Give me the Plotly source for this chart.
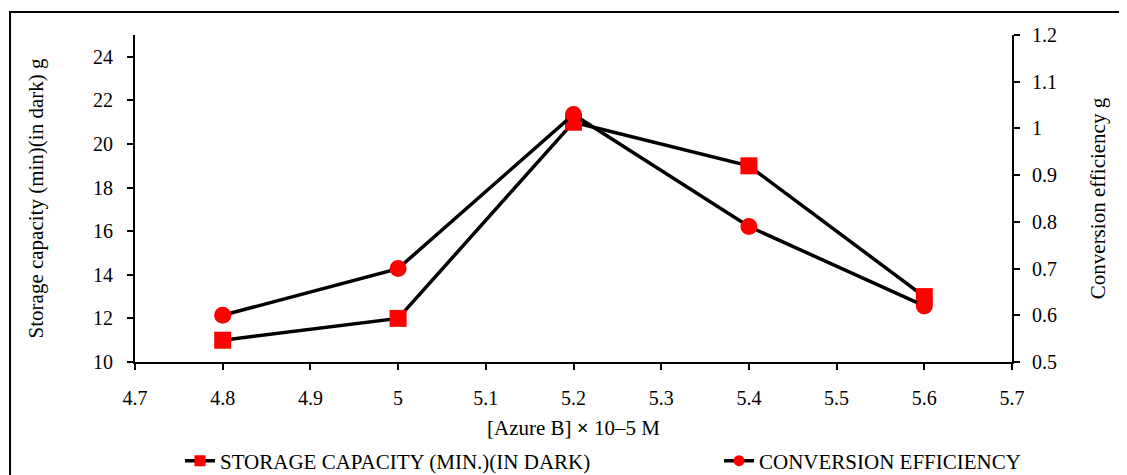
import plotly.graph_objects as go

x_vals = [4.8, 5.0, 5.2, 5.4, 5.6]
storage_capacity = [11, 12, 21, 19, 13]
conversion_eff = [0.60, 0.70, 1.03, 0.79, 0.62]

left_ticks = [10, 12, 14, 16, 18, 20, 22, 24]
right_ticks = [0.5, 0.6, 0.7, 0.8, 0.9, 1.0, 1.1, 1.2]
right_labels = ["0.5", "0.6", "0.7", "0.8", "0.9", "1", "1.1", "1.2"]
x_ticks = [4.7, 4.8, 4.9, 5.0, 5.1, 5.2, 5.3, 5.4, 5.5, 5.6, 5.7]
x_labels = ["4.7", "4.8", "4.9", "5", "5.1", "5.2", "5.3", "5.4", "5.5", "5.6", "5.7"]

name_storage = "STORAGE CAPACITY (MIN.)(IN DARK)"
name_conv = "CONVERSION EFFICIENCY"

FONT = "Liberation Serif"
TICK_SIZE = 20
TITLE_SIZE = 21

fig = go.Figure()
fig.add_trace(go.Scatter(
    x=x_vals, y=storage_capacity, name=name_storage,
    mode="lines+markers",
    line=dict(color="black", width=3.5),
    marker=dict(symbol="square", size=17, color="red"),
    yaxis="y", showlegend=False,
))
fig.add_trace(go.Scatter(
    x=x_vals, y=conversion_eff, name=name_conv,
    mode="lines+markers",
    line=dict(color="black", width=3.5),
    marker=dict(symbol="circle", size=17, color="red"),
    yaxis="y2", showlegend=False,
))
# legend entries (smaller legend symbols as in the reference)
fig.add_trace(go.Scatter(
    x=[None], y=[None], name=name_storage, mode="lines+markers",
    line=dict(color="black", width=3.5),
    marker=dict(symbol="square", size=11, color="red"),
    legend="legend", hoverinfo="skip",
))
fig.add_trace(go.Scatter(
    x=[None], y=[None], name=name_conv, mode="lines+markers",
    line=dict(color="black", width=3.5),
    marker=dict(symbol="circle", size=11, color="red"),
    legend="legend2", hoverinfo="skip", yaxis="y2",
))

axis_common = dict(
    showgrid=False, zeroline=False, showline=True, linecolor="black", linewidth=2,
    ticks="outside", ticklen=6, tickwidth=2, tickcolor="black", automargin=False,
    tickfont=dict(family=FONT, size=TICK_SIZE, color="black"),
)

legend_common = dict(
    orientation="h", xref="container", yref="container",
    xanchor="left", yanchor="middle", y=0.030,
    font=dict(family=FONT, size=TITLE_SIZE, color="black"),
    bgcolor="rgba(0,0,0,0)",
)

fig.update_layout(
    width=1119, height=467,
    margin=dict(l=127, r=115, t=27, b=113),
    paper_bgcolor="white", plot_bgcolor="white",
    font=dict(family=FONT, size=TICK_SIZE, color="black"),
    xaxis=dict(
        range=[4.7, 5.7], tickvals=x_ticks, ticktext=x_labels, ticklabelstandoff=11,
        title=dict(text="[Azure B] <b>×</b> 10–5 M", font=dict(family=FONT, size=TITLE_SIZE), standoff=21),
        **axis_common,
    ),
    yaxis=dict(
        range=[10, 25], tickvals=left_ticks, ticklabelstandoff=10,
        title=dict(text="Storage capacity (min)(in dark) g", font=dict(family=FONT, size=TITLE_SIZE), standoff=44),
        **axis_common,
    ),
    yaxis2=dict(
        range=[0.5, 1.2], tickvals=right_ticks, ticktext=right_labels, ticklabelstandoff=8,
        overlaying="y", side="right",
        title=dict(text="Conversion efficiency g", font=dict(family=FONT, size=TITLE_SIZE), standoff=34),
        **axis_common,
    ),
    legend=dict(x=0.1537, **legend_common),
    legend2=dict(x=0.6354, **legend_common),
)

fig.add_shape(
    type="rect", xref="paper", yref="paper",
    x0=-0.1425, y0=-0.5, x1=1.3, y1=1.0703,
    line=dict(color="black", width=2), fillcolor="rgba(0,0,0,0)", layer="below",
)

fig.write_html("out.html")
